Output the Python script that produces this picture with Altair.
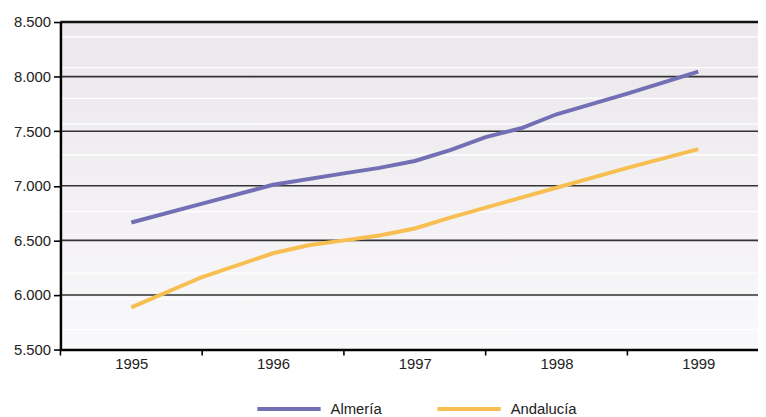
import altair as alt
import pandas as pd

# ---- data ----
years_almeria = [1995, 1995.5, 1996, 1996.5, 1996.75, 1997, 1997.25, 1997.5, 1997.75, 1998, 1998.5, 1999]
almeria = [6664, 6836, 7009, 7114, 7164, 7227, 7327, 7445, 7527, 7655, 7845, 8045]
years_andalucia = [1995, 1995.5, 1996, 1996.25, 1996.5, 1996.75, 1997, 1997.25, 1997.5, 1997.75, 1998, 1998.5, 1999]
andalucia = [5886, 6164, 6382, 6455, 6500, 6545, 6609, 6709, 6800, 6891, 6982, 7164, 7336]
series_names = ["Almería", "Andalucía"]
series_colors = ["#736fb4", "#f7bf52"]
x_labels = [1995, 1996, 1997, 1998, 1999]
x_tick_marks = [1994.5, 1995.5, 1996.5, 1997.5, 1998.5]
y_ticks = [5500, 6000, 6500, 7000, 7500, 8000, 8500]
grid_values = [6000, 6500, 7000, 7500, 8000]
top_value = [8500]
band_edges = [8364, 8082, 7800, 7564, 7282, 6764, 6200, 5964, 5682]

W, H = 705, 331
FONT = "Liberation Sans"

rows = []
for yr, v in zip(years_almeria, almeria):
    rows.append({"year": yr, "value": v, "series": series_names[0]})
for yr, v in zip(years_andalucia, andalucia):
    rows.append({"year": yr, "value": v, "series": series_names[1]})
df = pd.DataFrame(rows)

xscale = alt.Scale(domain=[1994.5, 1994.5 + W / 143.25], nice=False, zero=False)
yscale = alt.Scale(domain=[5500, 8500], nice=False, zero=False)

x_axis = alt.Axis(values=x_labels, title=None, ticks=False, grid=False,
                  labelFontSize=15, labelFont=FONT, labelColor="#222222",
                  labelPadding=7, domainColor="#000000", domainWidth=2.5,
                  labelFlush=False, format="d", zindex=1)
y_axis = alt.Axis(values=y_ticks, title=None, grid=False,
                  labelExpr="replace(format(datum.value, ','), ',', '.')",
                  labelFontSize=15, labelFont=FONT, labelColor="#222222",
                  labelPadding=3, tickSize=7, tickWidth=1.6, tickColor="#000000",
                  domainColor="#000000", domainWidth=2.5, labelFlush=False,
                  zindex=1)

bg = alt.Chart(alt.Data(values=[{}])).mark_rect(
    fill=alt.Gradient(
        gradient="linear",
        stops=[alt.GradientStop(color="#ebe7eb", offset=0),
               alt.GradientStop(color="#f9f8fa", offset=1)],
        x1=0, x2=0, y1=0, y2=1,
    )
).encode(x=alt.value(0), x2=alt.value(W), y=alt.value(0), y2=alt.value(H))

bands = alt.Chart(pd.DataFrame({"v": band_edges})).mark_rule(
    color="white", strokeWidth=1.3
).encode(y=alt.Y("v:Q", scale=yscale, axis=y_axis))

grid = alt.Chart(pd.DataFrame({"v": grid_values})).mark_rule(
    color="#333333", strokeWidth=1.6
).encode(y=alt.Y("v:Q", scale=yscale, axis=y_axis))

top = alt.Chart(pd.DataFrame({"v": top_value})).mark_rule(
    color="#111111", strokeWidth=2.6
).encode(y=alt.Y("v:Q", scale=yscale, axis=y_axis))

lines = alt.Chart(df).mark_line(strokeWidth=4, strokeCap="butt").encode(
    x=alt.X("year:Q", scale=xscale, axis=x_axis),
    y=alt.Y("value:Q", scale=yscale, axis=y_axis),
    color=alt.Color("series:N",
                    scale=alt.Scale(domain=series_names, range=series_colors),
                    legend=alt.Legend(title=None, orient="none", legendX=197, legendY=357,
                                      direction="horizontal", symbolType="stroke",
                                      symbolSize=4096, symbolStrokeWidth=4,
                                      labelFontSize=15, labelFont=FONT, labelColor="#222222",
                                      labelOffset=8, columnPadding=48, padding=0)),
    order="year:Q",
)

xticks = alt.Chart(pd.DataFrame({"t": x_tick_marks})).mark_rule(
    color="#000000", strokeWidth=1.6
).encode(x=alt.X("t:Q", scale=xscale, axis=x_axis), y=alt.value(H), y2=alt.value(H + 6))

chart = alt.layer(bg, bands, grid, top, lines, xticks).properties(
    width=W, height=H,
    autosize=alt.AutoSizeParams(type="none"),
    padding={"left": 53, "top": 12, "right": 0, "bottom": 66},
).configure_view(stroke=None).configure(background="white")

chart.save("out.html", embed_options={"renderer": "svg", "actions": False})
